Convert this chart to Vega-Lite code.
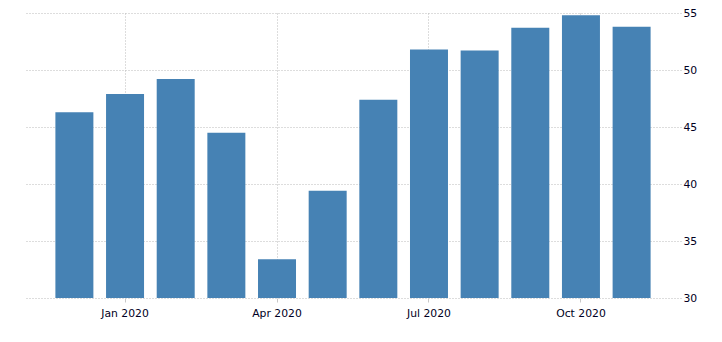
{
  "$schema": "https://vega.github.io/schema/vega-lite/v6.json",
  "width": 656,
  "height": 285,
  "autosize": {"type": "none"},
  "padding": {"left": 25, "top": 13, "right": 41, "bottom": 44},
  "background": "white",
  "config": {
    "view": {"stroke": null},
    "font": "DejaVu Sans"
  },
  "data": {
    "values": [
      {"month": "Dec 2019", "value": 46.3},
      {"month": "Jan 2020", "value": 47.9},
      {"month": "Feb 2020", "value": 49.2},
      {"month": "Mar 2020", "value": 44.5},
      {"month": "Apr 2020", "value": 33.4},
      {"month": "May 2020", "value": 39.4},
      {"month": "Jun 2020", "value": 47.4},
      {"month": "Jul 2020", "value": 51.8},
      {"month": "Aug 2020", "value": 51.7},
      {"month": "Sep 2020", "value": 53.7},
      {"month": "Oct 2020", "value": 54.8},
      {"month": "Nov 2020", "value": 53.8}
    ]
  },
  "mark": {"type": "bar", "color": "#4682b4", "clip": true},
  "encoding": {
    "x": {
      "field": "month",
      "type": "ordinal",
      "sort": null,
      "scale": {"paddingInner": 0.25, "paddingOuter": 0.6},
      "axis": {
        "title": null,
        "values": ["Jan 2020", "Apr 2020", "Jul 2020", "Oct 2020"],
        "labelAngle": 0,
        "domain": false,
        "bandPosition": 0.5,
        "grid": true,
        "gridColor": "#bbbbbb",
        "gridDash": [1, 2],
        "gridWidth": 1,
        "tickColor": "#c8c8c8",
        "tickSize": 4,
        "labelPadding": 5,
        "labelFontSize": 10.8,
        "labelColor": "#000022"
      }
    },
    "y": {
      "field": "value",
      "type": "quantitative",
      "scale": {"domain": [30, 55], "nice": false, "zero": false},
      "axis": {
        "title": null,
        "orient": "right",
        "values": [30, 35, 40, 45, 50, 55],
        "domain": false,
        "ticks": false,
        "grid": true,
        "gridColor": "#bbbbbb",
        "gridDash": [1, 2],
        "labelPadding": 2,
        "labelFontSize": 10.8,
        "labelColor": "#000022"
      }
    }
  }
}
